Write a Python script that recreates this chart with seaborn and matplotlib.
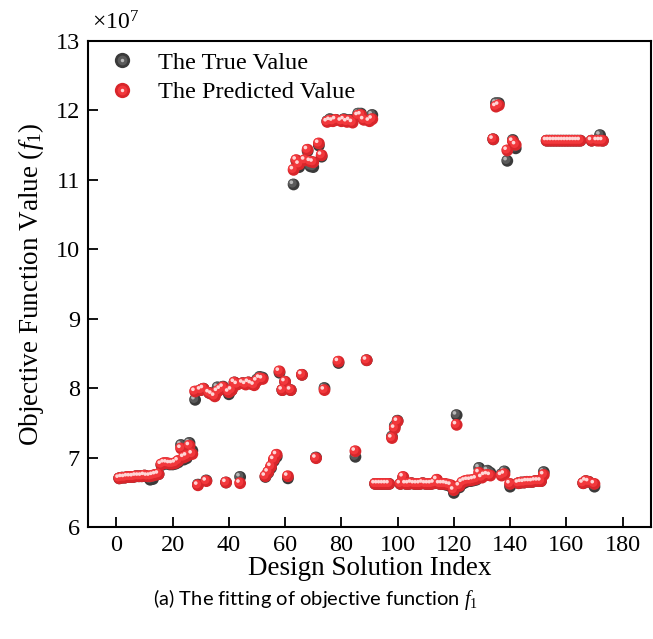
import numpy as np
import pandas as pd
import seaborn as sns
import matplotlib
matplotlib.use("Agg")
import matplotlib.pyplot as plt
from matplotlib import transforms
from matplotlib.lines import Line2D
from matplotlib.legend_handler import HandlerTuple

# ---------------- data (objective values in units of 1e7) ----------------
index = list(range(1, 174))

pred_value = [
    6.70, 6.71, 6.71, 6.72, 6.72, 6.72, 6.73, 6.73, 6.73, 6.74,
    6.73, 6.73, 6.74, 6.75, 6.76, 6.90, 6.92, 6.92, 6.91, 6.91,
    6.92, 6.95, 7.13, 7.00, 7.02, 7.17, 7.05, 7.95, 6.60, 7.97,
    7.99, 6.66, 7.93, 7.91, 7.88, 7.95, 7.98, 8.01, 6.64, 7.94,
    7.97, 8.08, 8.05, 6.63, 8.07, 8.05, 8.08, 8.06, 8.04, 8.10,
    8.14, 8.13, 6.73, 6.79, 6.87, 6.97, 7.04, 8.24, 7.97, 8.09,
    6.73, 7.97, 11.14, 11.28, 11.22, 8.19, 11.28, 11.43, 11.26, 11.25,
    6.99, 11.52, 11.35, 7.97, 11.83, 11.85, 11.84, 11.86, 8.38, 11.84,
    11.86, 11.83, 11.85, 11.82, 7.09, 11.92, 11.93, 11.86, 8.40, 11.84,
    11.87, 6.62, 6.62, 6.62, 6.62, 6.62, 6.62, 7.28, 7.42, 7.52,
    6.62, 6.72, 6.62, 6.62, 6.63, 6.62, 6.62, 6.62, 6.63, 6.62,
    6.62, 6.62, 6.63, 6.68, 6.62, 6.62, 6.62, 6.61, 6.60, 6.53,
    7.47, 6.59, 6.64, 6.66, 6.67, 6.67, 6.68, 6.69, 6.78, 6.71,
    6.74, 6.75, 6.74, 11.58, 12.05, 12.07, 6.74, 6.76, 11.42, 6.62,
    11.55, 11.50, 6.63, 6.64, 6.64, 6.65, 6.65, 6.65, 6.66, 6.66,
    6.66, 6.75, 11.56, 11.56, 11.56, 11.56, 11.56, 11.56, 11.56, 11.56,
    11.56, 11.56, 11.56, 11.56, 11.56, 6.63, 6.66, 6.65, 11.56, 6.62,
    11.56, 11.56, 11.56,
]

true_value = [
    6.70, 6.71, 6.71, 6.72, 6.72, 6.72, 6.73, 6.73, 6.73, 6.74,
    6.72, 6.68, 6.69, 6.75, 6.76, 6.89, 6.91, 6.91, 6.90, 6.90,
    6.91, 6.93, 7.18, 6.97, 6.99, 7.21, 7.10, 7.83, 6.61, 7.97,
    7.99, 6.67, 7.93, 7.92, 7.89, 8.01, 7.98, 8.02, 6.64, 7.91,
    7.97, 8.08, 8.06, 6.72, 8.07, 8.06, 8.08, 8.06, 8.05, 8.12,
    8.16, 8.15, 6.72, 6.78, 6.85, 6.95, 7.01, 8.22, 7.97, 8.09,
    6.70, 7.97, 10.93, 11.27, 11.18, 8.19, 11.26, 11.41, 11.19, 11.18,
    7.00, 11.49, 11.33, 8.00, 11.84, 11.87, 11.85, 11.86, 8.36, 11.85,
    11.87, 11.85, 11.86, 11.86, 7.01, 11.95, 11.95, 11.87, 8.40, 11.85,
    11.93, 6.62, 6.62, 6.62, 6.62, 6.62, 6.62, 7.30, 7.45, 7.53,
    6.62, 6.71, 6.62, 6.62, 6.63, 6.62, 6.62, 6.62, 6.63, 6.62,
    6.62, 6.62, 6.63, 6.67, 6.62, 6.62, 6.61, 6.60, 6.58, 6.49,
    7.61, 6.57, 6.62, 6.64, 6.66, 6.66, 6.67, 6.68, 6.85, 6.73,
    6.77, 6.81, 6.78, 11.58, 12.10, 12.10, 6.76, 6.80, 11.27, 6.58,
    11.57, 11.45, 6.63, 6.64, 6.64, 6.65, 6.65, 6.65, 6.66, 6.66,
    6.66, 6.79, 11.56, 11.56, 11.56, 11.56, 11.56, 11.56, 11.56, 11.56,
    11.56, 11.56, 11.56, 11.56, 11.56, 6.63, 6.66, 6.65, 11.56, 6.58,
    11.57, 11.64, 11.56,
]

series_labels = ["The True Value", "The Predicted Value"]
x_ticks = [0, 20, 40, 60, 80, 100, 120, 140, 160, 180]
y_ticks = [6, 7, 8, 9, 10, 11, 12, 13]

df = pd.DataFrame({"index": index, "true": true_value, "pred": pred_value})

# ---------------- style ----------------
sns.set_theme(style="white")
plt.rcParams["font.family"] = ["Liberation Serif", "DejaVu Serif"]
plt.rcParams["text.color"] = "black"
plt.rcParams["axes.labelcolor"] = "black"
plt.rcParams["xtick.color"] = "black"
plt.rcParams["ytick.color"] = "black"
plt.rcParams["mathtext.fontset"] = "custom"
plt.rcParams["mathtext.rm"] = "Liberation Serif"
plt.rcParams["mathtext.it"] = "Liberation Serif:italic"

fig = plt.figure(figsize=(6.53, 6.39), dpi=100)
ax = fig.add_axes([0.1352, 0.1753, 0.8613, 0.7611])

S = 72
ball_styles = {
    "true": dict(base="#3a3a3a", mid="#5a5a5a", hi="#b8b8b8"),
    "pred": dict(base="#d8262b", mid="#f2383c", hi="#ffd6d6"),
}


def draw_balls(col, st):
    off_mid = transforms.offset_copy(ax.transData, fig=fig, x=-0.9, y=0.9, units="points")
    off_hi = transforms.offset_copy(ax.transData, fig=fig, x=-1.6, y=1.6, units="points")
    sns.scatterplot(data=df, x="index", y=col, ax=ax, s=S, color=st["base"],
                    edgecolor="none", linewidth=0, legend=False, zorder=3)
    sns.scatterplot(data=df, x="index", y=col, ax=ax, s=S * 0.55, color=st["mid"],
                    edgecolor="none", linewidth=0, legend=False, zorder=3,
                    transform=off_mid)
    sns.scatterplot(data=df, x="index", y=col, ax=ax, s=7, color=st["hi"],
                    edgecolor="none", linewidth=0, legend=False, zorder=3,
                    transform=off_hi)


draw_balls("true", ball_styles["true"])
draw_balls("pred", ball_styles["pred"])

ax.set_xlim(-10, 190)
ax.set_ylim(6, 13)
ax.set_xticks(x_ticks)
ax.set_yticks(y_ticks)
ax.tick_params(axis="both", which="both", direction="in", length=7, width=1.3,
               labelsize=17.5, colors="black", pad=6,
               top=False, right=False, left=True, bottom=True)
for sp in ax.spines.values():
    sp.set_visible(True)
    sp.set_color("black")
    sp.set_linewidth(1.5)

ax.set_xlabel("Design Solution Index", fontsize=19.5, color="black")
ax.set_ylabel(r"Objective Function Value ($\mathit{f}_1$)", fontsize=19.5, color="black")
ax.xaxis.set_label_coords(0.5, -0.06)
ax.yaxis.set_label_coords(-0.075, 0.5)

ax.text(0.006, 1.012, r"$\times10^7$", transform=ax.transAxes, fontsize=17,
        ha="left", va="bottom", color="black")


def legend_handle(st):
    return (Line2D([], [], ls="none", marker="o", markersize=11, markerfacecolor=st["base"], markeredgecolor="none"),
            Line2D([], [], ls="none", marker="o", markersize=7, markerfacecolor=st["mid"], markeredgecolor="none"),
            Line2D([], [], ls="none", marker="o", markersize=2.5, markerfacecolor=st["hi"], markeredgecolor="none"))


leg = ax.legend([legend_handle(ball_styles["true"]), legend_handle(ball_styles["pred"])],
                series_labels, handler_map={tuple: HandlerTuple(ndivide=1, pad=0)},
                loc="upper left", bbox_to_anchor=(-0.01, 1.017), frameon=False,
                fontsize=17.5, handlelength=1.6, handletextpad=0.7, labelspacing=0.3,
                borderaxespad=0.4)
for t in leg.get_texts():
    t.set_color("black")

fig.text(316 / 653, 1 - 600 / 639, r"(a) The fitting of objective function $f_1$",
         family=["Lato", "DejaVu Sans"], fontsize=14.5, ha="center", va="center", color="black")

fig.savefig("out.png", dpi=100, facecolor="white")
